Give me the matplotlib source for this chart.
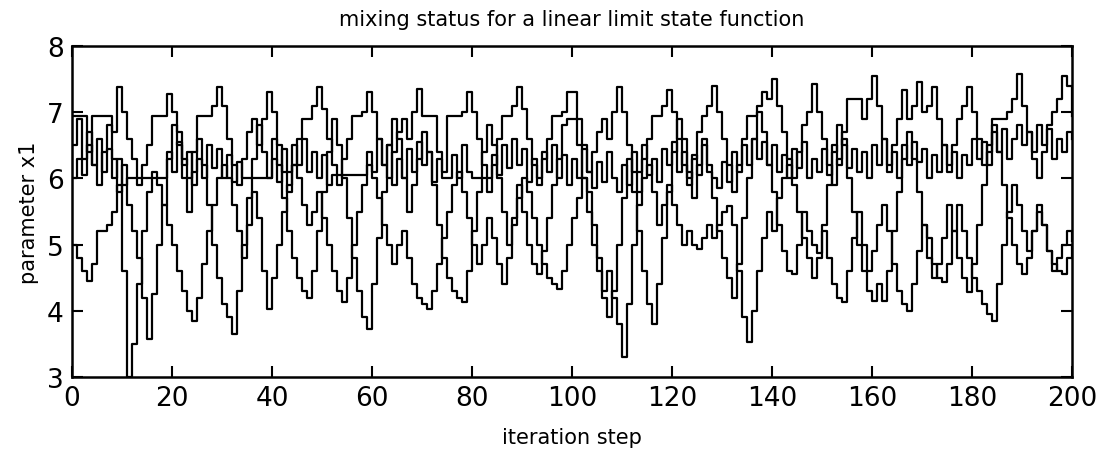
import matplotlib
matplotlib.use("Agg")
import matplotlib.pyplot as plt
import numpy as np

# valeurs lues a l'oeil sur la figure (4 chaines MCMC, 201 pas)
chain_high = [
    6.95, 6.95, 6.95, 6.4, 6.95, 6.95, 6.95, 6.95, 6.7, 7.38,
    7.0, 6.6, 6.3, 5.9, 6.2, 6.5, 6.95, 6.95, 6.95, 7.27,
    7.0, 6.7, 6.3, 6.0, 6.4, 6.95, 6.95, 6.95, 7.1, 7.38,
    7.1, 6.6, 6.2, 5.9, 6.3, 6.7, 6.9, 6.5, 6.9, 7.3,
    7.0, 6.5, 6.1, 5.8, 6.2, 6.6, 6.9, 6.9, 7.1, 7.38,
    7.05, 6.6, 6.2, 5.9, 6.3, 6.6, 6.95, 6.95, 7.0, 7.3,
    7.0, 6.6, 6.2, 6.0, 6.4, 6.7, 6.9, 6.6, 7.0, 7.35,
    6.95, 6.95, 6.95, 6.4, 6.1, 6.95, 6.95, 6.95, 7.0, 7.3,
    7.0, 6.6, 6.2, 5.8, 6.2, 6.6, 6.95, 6.95, 7.1, 7.38,
    7.05, 6.6, 6.2, 5.9, 6.3, 6.6, 6.95, 6.95, 7.0, 7.3,
    7.3, 6.9, 6.5, 6.1, 6.4, 6.7, 6.9, 6.6, 7.0, 7.38,
    7.0, 6.5, 6.1, 5.8, 6.3, 6.6, 6.95, 6.95, 7.1, 7.33,
    7.0, 6.6, 6.2, 5.9, 6.3, 6.7, 6.95, 7.1, 7.4, 7.0,
    6.6, 6.2, 5.8, 6.2, 6.6, 6.95, 6.95, 7.1, 7.3, 7.2,
    7.5, 7.1, 6.7, 6.3, 6.0, 6.4, 6.8, 7.0, 7.42, 7.0,
    6.6, 6.2, 5.9, 6.3, 6.7, 7.2, 7.2, 7.2, 6.9, 7.2,
    7.55, 7.1, 6.6, 6.2, 6.5, 6.9, 7.33, 6.9, 7.1, 7.45,
    7.0, 7.1, 7.38, 6.9, 6.5, 6.1, 6.5, 6.9, 7.1, 7.38,
    7.0, 6.6, 6.2, 6.5, 6.9, 6.9, 6.9, 7.0, 7.2, 7.57,
    7.1, 6.7, 6.3, 6.0, 6.4, 6.8, 7.0, 7.2, 7.55, 7.4,
    6.95,
]
chain_mid = [
    6.0, 6.3, 6.05, 6.5, 6.2, 6.6, 6.1, 6.45, 6.0, 6.3,
    5.9, 6.0, 6.0, 6.0, 6.0, 6.0, 6.0, 6.0, 6.0, 6.4,
    6.1, 6.55, 6.2, 6.4, 5.9, 6.3, 6.0, 6.5, 6.15, 6.45,
    6.0, 6.35, 5.95, 6.25, 6.0, 6.0, 6.0, 6.0, 6.0, 6.0,
    6.3, 5.95, 6.45, 6.1, 6.5, 6.2, 6.6, 6.1, 6.4, 6.0,
    6.35, 5.9, 6.05, 6.05, 6.05, 6.05, 6.05, 6.05, 6.05, 6.4,
    6.1, 6.6, 6.2, 6.5, 5.9, 6.3, 6.0, 6.45, 6.1, 6.55,
    6.2, 6.4, 5.95, 6.3, 6.0, 6.0, 6.35, 6.0, 6.5, 6.1,
    6.0, 6.0, 6.0, 6.0, 6.35, 6.05, 6.5, 6.15, 6.6, 6.2,
    6.45, 5.95, 6.3, 6.0, 6.4, 6.1, 6.5, 6.0, 6.35, 5.9,
    6.3, 6.0, 6.45, 6.1, 5.85, 6.25, 5.95, 6.4, 6.0, 5.8,
    6.2, 5.9, 6.4, 6.1, 6.5, 6.05, 6.3, 5.95, 6.45, 6.2,
    6.55, 6.1, 6.4, 6.0, 6.35, 6.05, 6.5, 6.1, 6.0, 5.85,
    6.25, 5.95, 6.4, 6.1, 6.5, 6.2, 6.6, 6.3, 6.55, 6.2,
    6.5, 6.1, 6.35, 6.0, 6.45, 6.15, 6.55, 6.0, 6.3, 6.1,
    6.45, 6.05, 6.5, 6.2, 6.6, 6.15, 6.45, 6.1, 6.4, 6.0,
    6.5, 6.2, 6.6, 6.1, 6.4, 6.0, 6.5, 6.2, 6.55, 6.25,
    6.45, 6.0, 6.35, 6.1, 6.5, 6.2, 6.4, 6.0, 6.35, 6.2,
    6.6, 6.3, 6.55, 6.2, 6.7, 6.4, 6.75, 6.3, 6.6, 6.8,
    6.5, 6.7, 6.4, 6.8, 6.5, 6.75, 6.3, 6.6, 6.4, 6.7,
    6.6,
]
chain_low = [
    5.0, 4.8, 4.6, 4.45, 4.7, 5.2, 5.2, 5.3, 5.5, 5.9,
    4.6, 3.0, 3.5, 4.4, 5.2, 5.8, 6.1, 5.9, 5.6, 5.3,
    5.0, 4.6, 4.3, 4.0, 3.85, 4.2, 4.7, 5.2, 5.6, 6.0,
    6.2, 6.0, 5.6, 5.2, 4.8, 5.3, 5.8, 5.4, 4.6, 4.03,
    4.5, 5.0, 5.5, 5.9, 6.2, 6.0, 5.6, 5.3, 5.5, 5.8,
    5.4, 5.0, 4.6, 4.3, 4.13, 4.5, 5.0, 5.5, 5.9, 6.2,
    6.0, 5.7, 5.3, 5.0, 4.7, 5.0, 5.2, 4.8, 4.4, 4.2,
    4.1, 4.03, 4.3, 4.7, 5.1, 5.5, 5.9, 6.1, 5.8, 5.4,
    5.0, 4.7, 5.0, 5.4, 5.1, 4.7, 4.4, 4.8, 5.3, 5.7,
    6.0, 5.8, 5.4, 5.0, 4.7, 4.5, 4.4, 4.33, 4.6, 5.0,
    5.4, 5.7, 6.0, 5.8, 5.3, 4.8, 4.3, 4.6, 4.2, 3.8,
    3.3, 4.1, 5.0, 5.6, 6.0, 6.2, 5.8, 5.3, 5.6, 5.9,
    5.6, 5.3, 5.0, 5.2, 5.0, 4.93, 5.1, 5.3, 5.1, 5.3,
    5.5, 5.58, 5.3, 4.6, 3.9, 3.53, 4.0, 4.6, 5.1, 5.5,
    5.2, 5.7, 6.0, 6.2, 5.9, 5.5, 5.1, 4.8, 4.5, 4.8,
    5.2, 4.8, 4.4, 4.2, 4.13, 4.6, 5.1, 5.5, 5.0, 4.6,
    4.9, 5.3, 5.6, 5.2, 4.7, 4.3, 4.1, 4.0, 4.4, 4.9,
    5.3, 5.1, 4.7, 4.5, 4.43, 4.7, 5.2, 5.6, 5.2, 4.8,
    4.5, 4.3, 4.1, 3.95, 3.85, 4.4, 5.0, 5.5, 5.9, 5.6,
    5.2, 4.9, 5.2, 5.5, 5.3, 4.9, 4.6, 4.8, 5.0, 5.2,
    5.05,
]
chain_wide = [
    6.5, 6.9, 6.3, 6.7, 6.2, 5.9, 6.4, 6.8, 6.3, 5.8,
    6.2, 5.6, 5.2, 4.8, 4.2, 3.57, 4.25, 5.0, 5.6, 6.3,
    6.8, 6.5, 6.0, 5.5, 6.1, 6.6, 6.2, 5.6, 5.0, 4.5,
    4.1, 3.9, 3.65, 4.3, 5.0, 5.7, 6.3, 6.8, 6.4, 6.0,
    6.6, 6.2, 5.7, 5.2, 4.8, 4.5, 4.3, 4.2, 4.6, 5.2,
    5.8, 6.4, 6.9, 6.5, 6.0, 5.4, 4.8, 4.3, 3.9, 3.72,
    4.4, 5.1, 5.8, 6.5, 6.9, 6.6, 6.0, 5.5, 5.9, 6.3,
    6.7, 6.4, 5.9, 5.3, 4.8, 4.5, 4.3, 4.2, 4.13, 4.6,
    5.2, 5.8, 6.4, 6.8, 6.5, 6.0, 5.5, 5.0, 5.4, 5.9,
    5.5, 5.0, 4.7, 4.55, 4.9, 5.4, 5.9, 6.3, 6.8, 6.9,
    6.9, 6.5, 6.0, 5.5, 5.0, 4.6, 4.2, 3.9, 4.3, 5.0,
    5.7, 6.3, 5.8, 5.2, 4.6, 4.1, 3.8, 4.4, 5.1, 5.8,
    6.4, 6.9, 6.6, 6.1, 5.7, 6.2, 6.6, 6.2, 5.7, 5.2,
    4.8, 4.5, 4.2, 4.7, 5.4, 6.0, 6.6, 7.0, 6.7, 6.2,
    5.8, 5.3, 4.9, 4.6, 4.55, 5.0, 5.5, 5.2, 5.0, 4.88,
    5.3, 5.9, 6.4, 6.8, 6.5, 6.0, 5.5, 5.0, 4.6, 4.3,
    4.15, 4.4, 4.15, 4.6, 5.2, 5.8, 6.3, 6.7, 6.3, 5.8,
    5.3, 4.8, 4.5, 4.7, 5.1, 5.6, 5.2, 4.8, 4.5, 4.28,
    4.7, 5.3, 5.9, 6.4, 6.8, 6.4, 5.9, 5.4, 5.0, 4.7,
    4.55, 4.8, 5.2, 5.6, 5.3, 4.9, 4.7, 4.6, 4.55, 4.8,
    5.0,
]
x_ticks = [0, 20, 40, 60, 80, 100, 120, 140, 160, 180, 200]
y_ticks = [3, 4, 5, 6, 7, 8]

steps = np.arange(len(chain_high))

fig = plt.figure(figsize=(10.97, 4.52), dpi=100)
ax = fig.add_axes([0.0656, 0.1637, 0.9116, 0.7323])

for ch in (chain_low, chain_wide, chain_mid, chain_high):
    ax.plot(steps, ch, color="black", linewidth=1.6, drawstyle="steps-post")

ax.set_xlim(0, 200)
ax.set_ylim(3, 8)
ax.set_xticks(x_ticks)
ax.set_yticks(y_ticks)
ax.tick_params(direction="in", length=8, width=1.5, top=True, right=True,
               labelsize=19, pad=6)
for sp in ax.spines.values():
    sp.set_linewidth(1.8)

ax.set_title("mixing status for a linear limit state function", fontsize=15, pad=15)
ax.set_xlabel("iteration step", fontsize=15, labelpad=11)
ax.set_ylabel("parameter x1", fontsize=15, labelpad=6)

fig.savefig("out.png", dpi=100)
plt.close(fig)
